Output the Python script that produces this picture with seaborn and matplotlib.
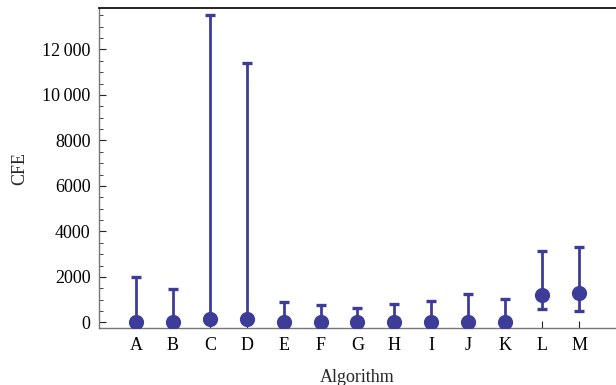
import numpy as np
import pandas as pd
import seaborn as sns
import matplotlib
matplotlib.use("Agg")
import matplotlib.pyplot as plt
from matplotlib.ticker import MultipleLocator, FuncFormatter

algorithms = ["A", "B", "C", "D", "E", "F", "G", "H", "I", "J", "K", "L", "M"]
cfe = [20, 30, 150, 130, 20, 10, 10, 20, 10, 20, 20, 1190, 1290]
cfe_low = [0, 0, 0, 0, 0, 0, 0, 0, 0, 0, 0, 600, 500]
cfe_high = [2000, 1450, 13500, 11400, 880, 780, 630, 820, 940, 1245, 1010, 3120, 3300]

df = pd.DataFrame({"Algorithm": algorithms, "CFE": cfe, "low": cfe_low, "high": cfe_high})

sns.set_theme(style="ticks")
plt.rcParams["font.family"] = ["Liberation Serif", "DejaVu Serif"]

color = "#3d3d99"
fig = plt.figure(figsize=(6.16, 3.85), dpi=100)
ax = fig.add_axes([0.1607, 0.147, 0.8393, 0.832])

x = np.arange(len(algorithms))
ax.errorbar(x, df["CFE"], yerr=[df["CFE"] - df["low"], df["high"] - df["CFE"]],
            fmt="none", ecolor=color, elinewidth=2.0, capsize=3.6, capthick=2.4, zorder=2)
sns.scatterplot(data=df, x=x, y="CFE", color=color, s=120, linewidth=0, ax=ax, zorder=3)

ax.set_xlim(-1, 13)
ax.set_ylim(-265, 13815)
ax.set_xticks(x)
ax.set_xticklabels(algorithms)
ax.yaxis.set_major_locator(MultipleLocator(2000))
ax.yaxis.set_minor_locator(MultipleLocator(500))

def fmt(v, pos):
    v = int(round(v))
    if abs(v) >= 10000:
        s = f"{v:,}".replace(",", "\u2009")
        return s
    return f"{v}"
ax.yaxis.set_major_formatter(FuncFormatter(fmt))

ax.tick_params(axis="both", which="both", direction="in", labelsize=13, colors="#222222",
               labelcolor="black", pad=6)
ax.tick_params(axis="y", which="major", length=5, width=0.8)
ax.tick_params(axis="y", which="minor", length=3, width=0.6)
ax.tick_params(axis="x", which="major", length=5, width=0.8)

for side in ["left", "bottom"]:
    ax.spines[side].set_color("#777777")
    ax.spines[side].set_linewidth(1.0)
ax.spines["top"].set_visible(True)
ax.spines["top"].set_color("black")
ax.spines["top"].set_linewidth(1.2)
ax.spines["right"].set_visible(False)

ax.set_xlabel("Algorithm", fontsize=13, labelpad=11)
ax.set_ylabel("CFE", fontsize=13, labelpad=10)

fig.savefig("out.png", dpi=100)
